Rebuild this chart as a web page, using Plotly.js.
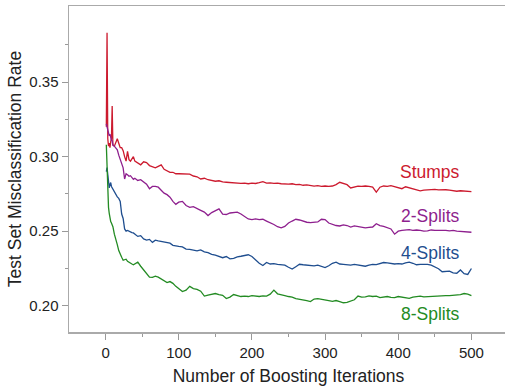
<!DOCTYPE html>
<html>
<head>
<meta charset="utf-8">
<script src="https://cdn.plot.ly/plotly-3.0.1.min.js"></script>
<style>
html,body{margin:0;padding:0;overflow:hidden;background:#fff;width:505px;height:386px;}
#chart{width:520px;height:386px;}
</style>
</head>
<body>
<div id="chart"></div>
<script>
// Boosting iterations at which values were read
const iterations = [1,2,3,4,5,6,7,8,9,10,
 12,14,16,18,20,22,24,26,28,30,32,34,36,38,40,
 44,48,52,56,60,64,68,72,76,80,84,88,92,96,100,
 105,110,115,120,125,130,135,140,145,150,155,160,165,170,175,180,185,190,195,200,
 205,210,215,220,225,230,235,240,245,250,255,260,265,270,275,280,285,290,295,300,
 305,310,315,320,325,330,335,340,345,350,355,360,365,370,375,380,385,390,395,400,
 405,410,415,420,425,430,435,440,445,450,455,460,465,470,475,480,485,490,495,500];

const stumps = [0.3200,0.3830,0.3120,0.3070,0.3090,0.3060,0.3100,0.3120,0.3340,0.3080,
 0.3070,0.3100,0.3120,0.3090,0.3060,0.3060,0.3040,0.3000,0.2970,0.3035,0.2980,0.2970,0.2985,0.3000,0.2970,
 0.2955,0.2945,0.2965,0.2960,0.2940,0.2930,0.2925,0.2935,0.2945,0.2915,0.2905,0.2895,0.2895,0.2885,0.2885,
 0.2885,0.2880,0.2882,0.2870,0.2865,0.2850,0.2855,0.2845,0.2840,0.2835,0.2838,0.2830,0.2828,0.2826,0.2822,0.2825,0.2820,0.2822,0.2818,0.2822,
 0.2820,0.2825,0.2832,0.2822,0.2824,0.2820,0.2822,0.2818,0.2816,0.2815,0.2818,0.2812,0.2814,0.2808,0.2810,0.2805,0.2802,0.2805,0.2800,0.2803,
 0.2800,0.2803,0.2812,0.2828,0.2818,0.2812,0.2790,0.2795,0.2802,0.2800,0.2803,0.2800,0.2795,0.2762,0.2795,0.2803,0.2800,0.2805,0.2798,0.2795,
 0.2785,0.2798,0.2790,0.2782,0.2776,0.2770,0.2775,0.2778,0.2782,0.2780,0.2777,0.2780,0.2778,0.2775,0.2770,0.2768,0.2771,0.2768,0.2768,0.2765];

const splits2 = [0.3220,0.3200,0.3185,0.3165,0.3140,0.3150,0.3120,0.3110,0.3105,0.3075,
 0.3070,0.3060,0.3045,0.3010,0.2985,0.2950,0.2925,0.2850,0.2885,0.2878,0.2868,0.2872,0.2860,0.2848,0.2855,
 0.2840,0.2845,0.2830,0.2815,0.2785,0.2800,0.2800,0.2795,0.2775,0.2755,0.2745,0.2728,0.2700,0.2680,0.2695,
 0.2700,0.2672,0.2660,0.2665,0.2650,0.2640,0.2628,0.2605,0.2625,0.2635,0.2650,0.2615,0.2612,0.2622,0.2625,0.2628,0.2615,0.2600,0.2582,0.2578,
 0.2582,0.2578,0.2580,0.2568,0.2558,0.2545,0.2530,0.2522,0.2532,0.2555,0.2568,0.2580,0.2575,0.2565,0.2560,0.2558,0.2560,0.2562,0.2580,0.2578,
 0.2555,0.2545,0.2538,0.2535,0.2542,0.2538,0.2528,0.2535,0.2532,0.2525,0.2522,0.2525,0.2528,0.2550,0.2538,0.2532,0.2525,0.2515,0.2480,0.2500,
 0.2505,0.2508,0.2510,0.2505,0.2508,0.2505,0.2500,0.2502,0.2508,0.2505,0.2505,0.2508,0.2505,0.2502,0.2505,0.2500,0.2498,0.2495,0.2495,0.2493];

const splits4 = [0.2900,0.2926,0.2880,0.2810,0.2790,0.2814,0.2826,0.2800,0.2790,0.2781,
 0.2770,0.2745,0.2730,0.2720,0.2700,0.2615,0.2585,0.2515,0.2500,0.2505,0.2498,0.2492,0.2490,0.2488,0.2480,
 0.2465,0.2470,0.2448,0.2440,0.2445,0.2425,0.2440,0.2435,0.2432,0.2430,0.2425,0.2420,0.2405,0.2400,0.2398,
 0.2395,0.2380,0.2378,0.2372,0.2368,0.2375,0.2362,0.2356,0.2345,0.2340,0.2330,0.2322,0.2330,0.2315,0.2318,0.2328,0.2332,0.2335,0.2342,0.2330,
 0.2305,0.2285,0.2270,0.2290,0.2280,0.2282,0.2278,0.2275,0.2272,0.2258,0.2246,0.2262,0.2278,0.2275,0.2272,0.2270,0.2268,0.2272,0.2262,0.2256,
 0.2268,0.2285,0.2292,0.2280,0.2278,0.2275,0.2272,0.2278,0.2275,0.2268,0.2265,0.2272,0.2278,0.2276,0.2285,0.2290,0.2288,0.2282,0.2280,0.2282,
 0.2280,0.2288,0.2292,0.2285,0.2275,0.2278,0.2280,0.2278,0.2272,0.2262,0.2248,0.2228,0.2230,0.2232,0.2220,0.2218,0.2240,0.2215,0.2210,0.2250];

const splits8 = [0.3080,0.2880,0.2680,0.2660,0.2620,0.2575,0.2565,0.2555,0.2545,0.2530,
 0.2480,0.2450,0.2410,0.2370,0.2340,0.2325,0.2305,0.2310,0.2312,0.2298,0.2290,0.2282,0.2280,0.2275,0.2280,
 0.2292,0.2265,0.2240,0.2215,0.2192,0.2190,0.2198,0.2192,0.2178,0.2165,0.2155,0.2162,0.2150,0.2130,0.2112,
 0.2095,0.2105,0.2130,0.2115,0.2110,0.2098,0.2065,0.2072,0.2078,0.2082,0.2075,0.2070,0.2048,0.2058,0.2075,0.2068,0.2062,0.2065,0.2062,0.2068,
 0.2065,0.2062,0.2066,0.2065,0.2078,0.2105,0.2080,0.2072,0.2068,0.2062,0.2058,0.2048,0.2045,0.2042,0.2035,0.2028,0.2045,0.2048,0.2042,0.2040,
 0.2035,0.2030,0.2035,0.2028,0.2020,0.2022,0.2030,0.2040,0.2065,0.2058,0.2060,0.2066,0.2062,0.2065,0.2055,0.2058,0.2062,0.2056,0.2055,0.2062,
 0.2058,0.2055,0.2050,0.2058,0.2062,0.2065,0.2060,0.2062,0.2065,0.2066,0.2068,0.2070,0.2068,0.2068,0.2070,0.2072,0.2075,0.2082,0.2078,0.2068];

const seriesNames = ['Stumps','2-Splits','4-Splits','8-Splits'];
const seriesColors = ['#CC1A2E','#8E1F8E','#1F4E8F','#238B23'];
const labelY = [0.2895, 0.2603, 0.2356, 0.1948];
const labelX = 444;

const allSeries = [stumps, splits2, splits4, splits8];
const traces = allSeries.map((vals, k) => ({
  x: iterations, y: vals, type: 'scatter', mode: 'lines',
  name: seriesNames[k], line: {color: seriesColors[k], width: 1.3}, hoverinfo: 'skip'
}));

const annotations = seriesNames.map((n, k) => ({
  x: labelX, y: labelY[k], xref: 'x', yref: 'y', text: n, showarrow: false,
  font: {family: 'Liberation Sans, Arial, sans-serif', size: 17.5, color: seriesColors[k]},
  xanchor: 'center', yanchor: 'middle'
}));

const axisCommon = {
  showgrid: false, zeroline: false, showline: true, mirror: true,
  linecolor: '#AAAAAA', linewidth: 1.5,
  ticks: 'outside', tickcolor: '#999999', tickwidth: 1, ticklen: 6,
  tickfont: {family: 'Liberation Sans, Arial, sans-serif', size: 15, color: '#222222'}
};

const layout = {
  width: 520, height: 386,
  margin: {l: 69, r: 12, t: 6, b: 54},
  paper_bgcolor: '#FFFFFF', plot_bgcolor: '#FFFFFF',
  showlegend: false,
  font: {family: 'Liberation Sans, Arial, sans-serif', color: '#222222'},
  xaxis: Object.assign({}, axisCommon, {
    range: [-50, 550], tickvals: [0,100,200,300,400,500],
    minor: {tickvals: [50,150,250,350,450], ticks: 'outside', ticklen: 3, tickcolor: '#999999', tickwidth: 1},
    title: {text: 'Number of Boosting Iterations', font: {size: 17.5, color: '#222222'}, standoff: 13}
  }),
  yaxis: Object.assign({}, axisCommon, {
    range: [0.1824, 0.401], tickvals: [0.20,0.25,0.30,0.35], tickformat: '.2f',
    minor: {tickvals: [0.225,0.275,0.325,0.375], ticks: 'outside', ticklen: 3, tickcolor: '#999999', tickwidth: 1},
    title: {text: 'Test Set Misclassification Rate', font: {size: 17.5, color: '#222222'}, standoff: 3}
  }),
  annotations: annotations
};

Plotly.newPlot('chart', traces, layout, {displayModeBar: false, staticPlot: true});
</script>
</body>
</html>
